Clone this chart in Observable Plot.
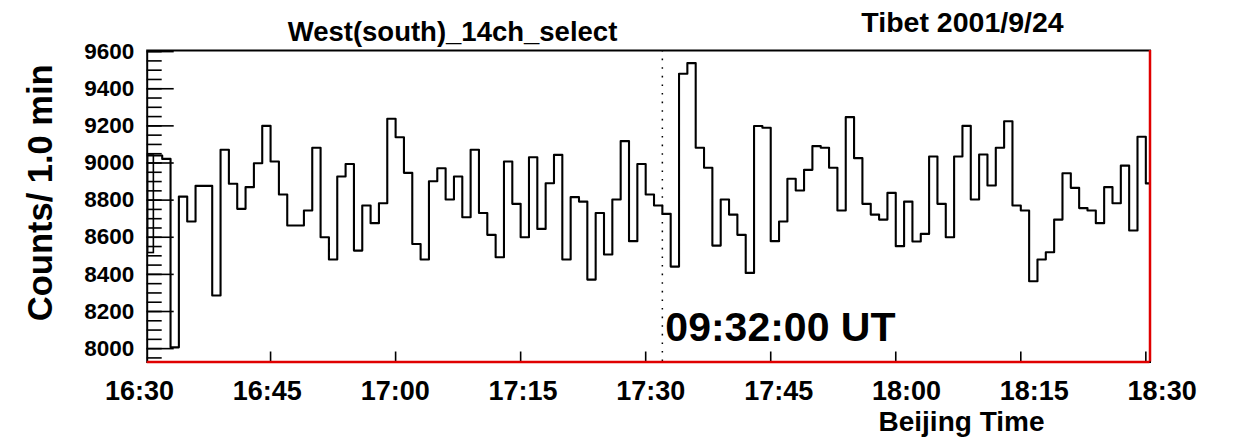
<!DOCTYPE html>
<html><head><meta charset="utf-8">
<script src="https://cdn.jsdelivr.net/npm/d3@7"></script>
<script src="https://cdn.jsdelivr.net/npm/@observablehq/plot@0.6"></script>
<style>
html,body{margin:0;padding:0;background:#fff;}
#chart{width:1234px;height:444px;}
</style></head><body><div id="chart"></div>
<script>
// ---- data (counts per 1-minute bin, bin k starts k minutes after 16:30 Beijing Time)
const counts = [
  9040, 9040, 9022, 8007, 8819, 8685, 8877, 8877, 8286, 9071,
  8888, 8753, 8870, 8999, 9200, 9008, 8830, 8663, 8663, 8744,
  9082, 8600, 8480, 8927, 8995, 8528, 8771, 8676, 8783, 9238,
  9139, 8947, 8564, 8480, 8902, 8972, 8803, 8927, 8708, 9071,
  8731, 8613, 8492, 9008, 8780, 8600, 9031, 8645, 8891, 9044,
  8480, 8816, 8792, 8372, 8731, 8507, 8803, 9118, 8579, 8995,
  8830, 8771, 8726, 8442, 9481, 9538, 9082, 8974, 8555, 8803,
  8722, 8613, 8408, 9199, 9190, 8579, 8685, 8915, 8852, 8963,
  9091, 9082, 8974, 8744, 9247, 9026, 8780, 8722, 8695, 8839,
  8552, 8792, 8577, 8618, 9035, 8780, 8600, 9035, 9200, 8803,
  9046, 8879, 9082, 9225, 8771, 8744, 8363, 8480, 8519, 8695,
  8945, 8866, 8757, 8744, 8676, 8870, 8783, 8986, 8636, 9141,
  8890
];
const firstBinBox = [{m1: 0.3, m2: 1, c1: 8515, c2: 9040}];
const markerMinute = 62;            // 17:32 Beijing = 09:32 UT
const markerLabel = "09:32:00 UT";
const xTickMinutes = [15, 30, 45, 60, 75, 90, 105, 120];
const xLabelMinutes = [0, 15, 30, 45, 60, 75, 90, 105, 120];
const xTickLabels = ["16:30", "16:45", "17:00", "17:15", "17:30", "17:45", "18:00", "18:15", "18:30"];
const yMajorTicks = [8000, 8200, 8400, 8600, 8800, 9000, 9200, 9400, 9600];
const yMinorTicks = d3.range(7950, 9601, 50);
const titleLeft = "West(south)_14ch_select";
const titleRight = "Tibet 2001/9/24";
const xTitle = "Beijing Time";
const yTitle = "Counts/ 1.0 min";
const xDomain = [0.2, 120.5];
const yDomain = [7928, 9606];

// ---- layout
const W = 1234, H = 444;
const mL = 146.7, mR = 84.5, mT = 50, mB = 82.5;
const pw = W - mL - mR, ph = H - mT - mB;
const font = "'Liberation Sans', Arial, Helvetica, sans-serif";
const labelSpread = 1.0223, labelShift = -0.72;

const pts = counts.map((c, i) => ({m: i, c}));
pts.push({m: counts.length, c: counts[counts.length - 1]});

const chart = Plot.plot({
  width: W, height: H,
  marginLeft: mL, marginRight: mR, marginTop: mT, marginBottom: mB,
  style: {fontFamily: font, background: "#fff", color: "#000"},
  x: {type: "linear", domain: xDomain, axis: null},
  y: {type: "linear", domain: yDomain, axis: null},
  marks: [
    // histogram step line
    Plot.line(pts, {x: "m", y: "c", curve: "step-after", stroke: "#000", strokeWidth: 2.1, clip: true}),
    Plot.rect(firstBinBox, {x1: "m1", x2: "m2", y1: "c1", y2: "c2", fill: "none", stroke: "#000", strokeWidth: 1.6, clip: true}),
    // event marker
    Plot.ruleX([markerMinute], {stroke: "#000", strokeWidth: 1.5, strokeDasharray: "1.6,7"}),
    Plot.text([markerLabel], {x: () => markerMinute, text: d => d, frameAnchor: "bottom", dy: -34, dx: 3, textAnchor: "start", lineAnchor: "middle", fontSize: 41, fontWeight: "bold"}),
    // y ticks (inside)
    Plot.tickY(yMinorTicks, {y: d => d, insetRight: pw - 15, stroke: "#000", strokeWidth: 1.6}),
    Plot.tickY(yMajorTicks, {y: d => d, insetRight: pw - 27, stroke: "#000", strokeWidth: 1.6}),
    // x ticks (inside, from bottom)
    Plot.tickX(xTickMinutes, {x: d => d, insetTop: ph - 10, stroke: "#000", strokeWidth: 1.6}),
    // frame
    Plot.frame({stroke: "#000", strokeWidth: 2}),
    Plot.ruleY([yDomain[0]], {stroke: "#e00000", strokeWidth: 2.5}),
    Plot.ruleX([xDomain[1]], {stroke: "#e00000", strokeWidth: 2.5}),
    // y tick labels
    Plot.text(yMajorTicks, {y: d => d, text: d => String(d), frameAnchor: "left", dx: -13, textAnchor: "end", lineAnchor: "middle", fontSize: 22.5, fontWeight: "bold"}),
    // x tick labels
    Plot.text(xLabelMinutes, {x: d => d * labelSpread + labelShift, text: (d, i) => xTickLabels[i], frameAnchor: "bottom", dy: 29.3, textAnchor: "middle", lineAnchor: "middle", fontSize: 27, fontWeight: "bold"}),
    // titles
    Plot.text([titleLeft], {text: d => d, frameAnchor: "top-left", dx: 305.3, dy: -18, textAnchor: "middle", lineAnchor: "middle", fontSize: 27.5, fontWeight: "bold"}),
    Plot.text([titleRight], {text: d => d, frameAnchor: "top-left", dx: 815.3, dy: -27.5, textAnchor: "middle", lineAnchor: "middle", fontSize: 28.5, fontWeight: "bold"}),
    Plot.text([xTitle], {text: d => d, frameAnchor: "bottom-left", dx: 814.3, dy: 60.2, textAnchor: "middle", lineAnchor: "middle", fontSize: 28, fontWeight: "bold"}),
    Plot.text([yTitle], {text: d => d, frameAnchor: "left", dx: -106.7, dy: -13.5, rotate: -90, textAnchor: "middle", lineAnchor: "middle", fontSize: 34.5, fontWeight: "bold"})
  ]
});
document.getElementById("chart").appendChild(chart);
</script>
</body></html>
